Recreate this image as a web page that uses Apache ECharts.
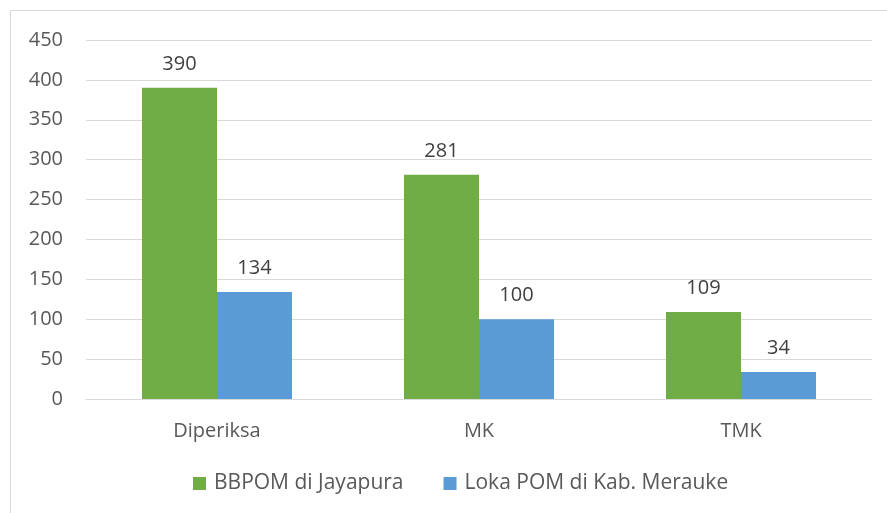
<!DOCTYPE html>
<html>
<head>
<meta charset="utf-8">
<script src="https://cdn.jsdelivr.net/npm/echarts@6/dist/echarts.min.js"></script>
<style>html,body{margin:0;padding:0;background:#fff}#main{width:887px;height:513px}</style>
</head>
<body>
<div id="main"></div>
<script>
var categories = ['Diperiksa', 'MK', 'TMK'];
var seriesNames = ['BBPOM di Jayapura', 'Loka POM di Kab. Merauke'];
var jayapura = [390, 281, 109];
var merauke = [134, 100, 34];

var myChart = echarts.init(document.getElementById('main'));
var txt = '#595959';
var fnt = '"Open Sans", "Noto Sans", sans-serif';

option = {
    animation: false,
    textStyle: {fontFamily: fnt},
    graphic: [{
        type: 'rect',
        shape: {x: 10.5, y: 10.5, width: 900, height: 600},
        style: {fill: 'none', stroke: '#d9d9d9', lineWidth: 1},
        silent: true
    }],
    grid: {left: 86, right: 15, top: 40, bottom: 114},
    legend: {
        bottom: 14,
        left: 188,
        itemWidth: 13,
        itemHeight: 13,
        itemGap: 40,
        icon: 'rect',
        textStyle: {color: txt, fontSize: 21, fontFamily: fnt, padding: [0, 0, 0, 3]}
    },
    xAxis: {
        type: 'category',
        data: categories,
        axisLine: {lineStyle: {color: '#d9d9d9'}},
        axisTick: {show: false},
        axisLabel: {color: txt, fontSize: 20, margin: 22, fontFamily: fnt}
    },
    yAxis: {
        type: 'value',
        min: 0,
        max: 450,
        interval: 50,
        axisLine: {show: false},
        axisTick: {show: false},
        splitLine: {lineStyle: {color: '#d9d9d9'}},
        axisLabel: {color: txt, fontSize: 20, margin: 23, fontFamily: fnt}
    },
    series: [{
        name: seriesNames[0],
        type: 'bar',
        data: jayapura,
        barWidth: 75,
        barGap: '0%',
        itemStyle: {color: '#70ad47'},
        label: {show: true, position: 'top', distance: 14, color: '#404040', fontSize: 20, fontFamily: fnt}
    }, {
        name: seriesNames[1],
        type: 'bar',
        data: merauke,
        barWidth: 75,
        barGap: '0%',
        itemStyle: {color: '#5b9bd5'},
        label: {show: true, position: 'top', distance: 14, color: '#404040', fontSize: 20, fontFamily: fnt}
    }]
};
myChart.setOption(option);
</script>
</body>
</html>
